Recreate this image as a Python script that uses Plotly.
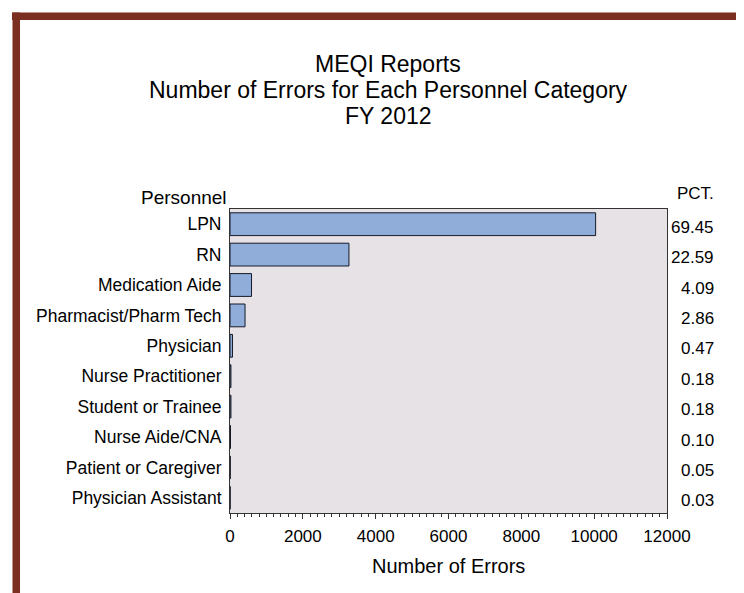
import plotly.graph_objects as go

categories = ["LPN", "RN", "Medication Aide", "Pharmacist/Pharm Tech", "Physician",
              "Nurse Practitioner", "Student or Trainee", "Nurse Aide/CNA",
              "Patient or Caregiver", "Physician Assistant"]
errors = [10040, 3266, 591, 413, 68, 26, 26, 14, 7, 4]
pct_labels = ["69.45", "22.59", "4.09", "2.86", "0.47", "0.18", "0.18", "0.10", "0.05", "0.03"]
x_ticks = [0, 2000, 4000, 6000, 8000, 10000, 12000]
title_lines = ["MEQI Reports", "Number of Errors for Each Personnel Category", "FY 2012"]

# page body has an 8px margin; work in page pixels and shift
OFF = 8
W, H = 744 - OFF, 593 - OFF
L, R, T, B = 230, 667, 209, 513  # plot area, page pixels
pw, ph = R - L, B - T

def px(x):
    return (x - L) / pw

def py(y):
    return (B - y) / ph

FONT = "Arial, Liberation Sans, sans-serif"
BORDER = "#7b2f21"

fig = go.Figure()
fig.add_trace(go.Bar(
    y=categories, x=errors, orientation="h",
    marker=dict(color="#8fadd8", line=dict(color="#141a2a", width=1)),
    hoverinfo="x+y",
))

annotations = []
for cat, p in zip(categories, pct_labels):
    annotations.append(dict(x=px(716), xref="paper", y=cat, yref="y", text=p,
                            showarrow=False, xanchor="right", yanchor="middle",
                            yshift=-3, font=dict(size=17, color="#000", family=FONT)))
annotations.append(dict(x=px(229), xref="paper", y=py(197), yref="paper", text="Personnel",
                        showarrow=False, xanchor="right", yanchor="middle",
                        font=dict(size=19, color="#000", family=FONT)))
annotations.append(dict(x=px(716), xref="paper", y=py(193), yref="paper", text="PCT.",
                        showarrow=False, xanchor="right", yanchor="middle",
                        font=dict(size=17, color="#000", family=FONT)))
annotations.append(dict(x=0.5, xref="paper", y=py(566), yref="paper", text="Number of Errors",
                        showarrow=False, xanchor="center", yanchor="middle",
                        font=dict(size=20, color="#000", family=FONT)))
for line, yc in zip(title_lines, [64, 90, 116]):
    annotations.append(dict(x=px(388), xref="paper", y=py(yc), yref="paper", text=line,
                            showarrow=False, xanchor="center", yanchor="middle",
                            font=dict(size=23, color="#000", family=FONT)))

shapes = [
    dict(type="rect", xref="paper", yref="paper", x0=px(12), x1=px(760), y0=py(20), y1=py(12.5),
         fillcolor=BORDER, line=dict(width=0), layer="above"),
    dict(type="rect", xref="paper", yref="paper", x0=px(12.5), x1=px(20), y0=py(600), y1=py(12.5),
         fillcolor=BORDER, line=dict(width=0), layer="above"),
]

fig.update_layout(
    width=W, height=H,
    margin=dict(l=L - OFF, r=W - (R - OFF), t=T - OFF, b=H - (B - OFF), pad=0),
    paper_bgcolor="white", plot_bgcolor="#e7e2e6",
    font=dict(family=FONT, color="#000"),
    bargap=0.25, showlegend=False,
    annotations=annotations, shapes=shapes,
    xaxis=dict(range=[0, 12000], tickvals=x_ticks, ticktext=[str(v) for v in x_ticks],
               ticks="outside", ticklen=5, tickwidth=1,
               tickcolor="#333", showgrid=False, zeroline=False, showline=True, linecolor="#333",
               linewidth=1, mirror=True, tickfont=dict(size=17, family=FONT), ticklabelstandoff=3,
               minor=dict(dtick=200, ticks="outside", ticklen=3, tickcolor="#333", showgrid=False)),
    yaxis=dict(autorange="reversed", showgrid=False, zeroline=False, showline=True,
               linecolor="#333", linewidth=1, mirror=True, ticks="", ticklabelstandoff=4,
               tickfont=dict(size=17.5, family=FONT)),
)

fig.write_html("out.html")
